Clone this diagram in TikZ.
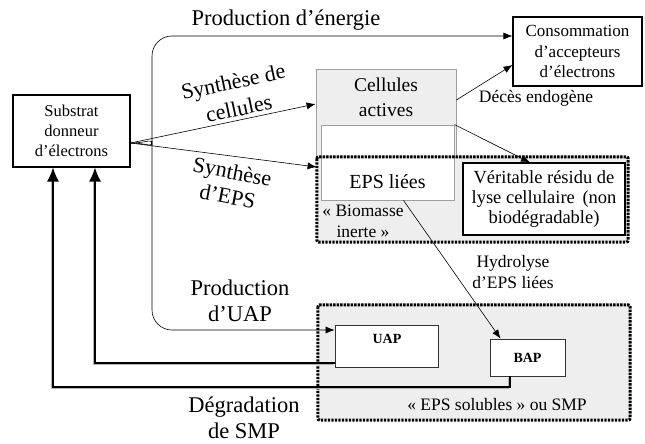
\documentclass[tikz,border=0pt]{standalone}
\usepackage{fontspec}
\setmainfont{Liberation Serif}
\usetikzlibrary{arrows.meta,calc}
\tikzset{>={Latex[length=9pt,width=7pt]}}
\newcommand{\bigfont}{\fontsize{22.5}{26}\selectfont}
\newcommand{\midfont}{\fontsize{17.5}{21}\selectfont}
\newcommand{\boxfont}{\fontsize{17}{20.5}\selectfont}

\begin{document}
\begin{tikzpicture}[x=1pt,y=-1pt,
    box/.style={draw,line width=1.1pt,fill=white,align=center,inner sep=0pt,font=\boxfont},
    smallbox/.style={draw=black!80,line width=0.8pt,fill=white,inner sep=0pt,font=\bfseries\fontsize{14}{16}\selectfont},
    zone/.style={fill=gray!13,inner sep=0pt},
    zoneline/.style={line width=3pt,dash pattern=on 2.4pt off 1.1pt,rounded corners=2pt},
    flow/.style={->,line width=0.6pt},
    ret/.style={-{Latex[length=14pt,width=12pt]},line width=1.3pt,
        preaction={draw=gray!60,line width=1.4pt,-,shorten >=8pt,transform canvas={xshift=-1.6pt,yshift=-1.6pt}}},
    lab/.style={align=center,inner sep=0pt}]
    \fill[white] (0,0) rectangle (645,444);
    \useasboundingbox (0,0) rectangle (645,444);

    \node[zone,minimum width=311pt,minimum height=85pt] (inert) at (472.5,199.5) {};
    \node[zone,minimum width=312pt,minimum height=115pt] (smp) at (474,362.5) {};

    \node[box,minimum width=117pt,minimum height=72pt,font=\fontsize{16.5}{20}\selectfont] (sub) at (71.5,131) {Substrat\\donneur\\d’électrons};
    \node[box,minimum width=129pt,minimum height=69pt] (cons) at (577.5,51.5) {Consommation\\d’accepteurs\\d’électrons};

    \node[draw=gray!75,fill=gray!13,line width=0.8pt,minimum width=140pt,minimum height=88pt] (cell) at (386,113) {};
    \node[lab,font=\fontsize{19.5}{25}\selectfont] (cellTxt) at (386,97) {Cellules\\actives};
    \node[draw=gray!75,fill=white,line width=0.8pt,minimum width=133pt,minimum height=75pt] (eps) at (387.5,162.5) {};
    \node[lab,font=\fontsize{20}{24}\selectfont] (epsTxt) at (387.5,182) {EPS liées};
    \node[box,minimum width=162pt,minimum height=72pt,font=\fontsize{18.5}{20}\selectfont] (ver) at (544,199) {Véritable résidu de\\lyse cellulaire\hspace{3pt} (non\\biodégradable)};

    \node[smallbox,minimum width=103pt,minimum height=42pt] (uap) at (386.5,346) {};
    \node[lab,font=\bfseries\fontsize{14}{16}\selectfont] (uapTxt) at (387,339) {UAP};
    \node[smallbox,minimum width=75pt,minimum height=37pt] (bap) at (527.5,357.5) {BAP};

    \draw[zoneline] (inert.north west) rectangle (inert.south east);
    \draw[zoneline] (smp.north west) rectangle (smp.south east);

    \node[lab,font=\midfont] (biomTxt) at (363,221) {« Biomasse\\inerte »};
    \node[lab,font=\midfont] (smpTxt) at (497,405) {« EPS solubles » ou SMP};

    \coordinate (fan) at ([yshift=-12pt]sub.east);
    \coordinate (eneCorner) at (152,36);
    \coordinate (uapCorner) at (152,330);
    \coordinate (bapLow) at (510,387);

    \draw[flow,rounded corners=20pt] (fan) .. controls (147,143) and (152,138) .. (152,124) -- (eneCorner) -- (cons.west |- eneCorner);
    \draw[flow,rounded corners=20pt] (fan) .. controls (147,143) and (152,148) .. (152,162) -- (uapCorner) -- (uap.west |- uapCorner);
    \draw[flow] (fan) -- ([yshift=9pt]cell.west);
    \draw[flow] (fan) -- ([xshift=-4pt,yshift=-4.5pt]eps.west);
    \draw[flow] ([yshift=13pt]cell.east) -- ([yshift=-13.5pt]cons.west);
    \draw[flow] (eps.north east) -- ([xshift=-14pt]ver.north);
    \draw[flow] ([xshift=16pt]eps.south) -- ([xshift=-27pt]bap.north);

    \draw[ret] ([yshift=-17pt]uap.west) -| ([xshift=23.5pt]sub.south);
    \draw[ret] ([xshift=-17.5pt]bap.south) -- (bapLow) -| ([xshift=-18.5pt]sub.south);

    \node[lab,font=\bigfont] (eneTxt) at (286,20) {Production d’énergie};
    \node[lab,font=\fontsize{22}{27.5}\selectfont,rotate=12] (celSynTxt) at (236,95) {Synthèse de\\cellules};
    \node[lab,font=\fontsize{22}{25}\selectfont,rotate=-11] (epsSynTxt) at (230,184) {Synthèse\\d’EPS};
    \node[lab,font=\bigfont] (uapProdTxt) at (240,301) {Production\\d’UAP};
    \node[lab,font=\bigfont] (degTxt) at (244,418) {Dégradation\\de SMP};
    \node[lab,font=\midfont] (decTxt) at (536,98) {Décès endogène};
    \node[lab,font=\midfont] (hydTxt) at (513,272) {Hydrolyse\\d’EPS liées};
\end{tikzpicture}
\end{document}
